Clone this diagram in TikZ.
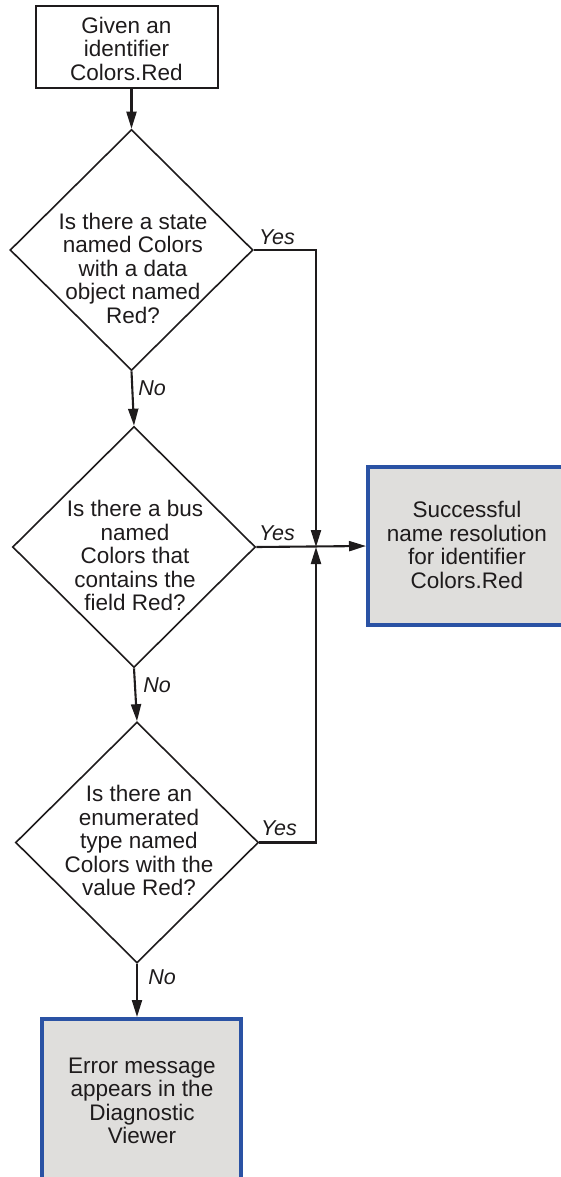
\documentclass[tikz,border=0pt]{standalone}
\usepackage{fontspec}
\setmainfont{Liberation Sans}
\usetikzlibrary{shapes.geometric,arrows.meta}
\definecolor{ink}{HTML}{1E1B1C}
\definecolor{frameblue}{HTML}{2A52A4}
\definecolor{boxgray}{HTML}{DFDEDC}
\begin{document}
\begin{tikzpicture}[x=1pt,y=-1pt,
  txt/.style={font=\fontsize{22.5}{23.5}\selectfont, text=ink, align=center, inner sep=0pt},
  startbox/.style={draw=ink, line width=2pt, minimum width=182pt, minimum height=82pt, inner sep=0pt},
  endbox/.style={draw=frameblue, fill=boxgray, line width=4pt, inner sep=0pt},
  decbox/.style={diamond, draw=ink, line width=1.6pt, minimum width=243pt, minimum height=241pt, inner sep=0pt},
  flow/.style={draw=ink, line width=2.1pt},
  arr/.style={-{Triangle[length=17pt,width=10pt]}},
  lab/.style={font=\fontsize{21.5}{22}\selectfont\itshape, text=ink, inner sep=0pt}]
\useasboundingbox (0,0) rectangle (561,1177);
\clip (0,0) rectangle (561,1177);

\node[startbox] (start) at (126.5,47.5) {};
\node[txt] (t0) at (126.5,48.5) {Given an\\identifier\\Colors.Red};

\node[decbox] (d1) at (131.5,250) {};
\node[txt] (t1) at (133,268) {Is there a state\\named Colors\\with a data\\object named\\Red?};

\node[decbox] (d2) at (134,547) {};
\node[txt] (t2) at (135,555.5) {Is there a bus\\named\\Colors that\\contains the\\field Red?};

\node[decbox] (d3) at (137,842.5) {};
\node[txt] (t3) at (139,840.5) {Is there an\\enumerated\\type named\\Colors with the\\value Red?};

\node[endbox, minimum width=197pt, minimum height=158pt] (succ) at (466.5,546) {};
\node[txt] (t4) at (467,545) {Successful\\name resolution\\for identifier\\Colors.Red};

\node[endbox, minimum width=199pt, minimum height=171pt] (err) at (141.5,1104.5) {};
\node[txt] (t5) at (142,1101) {Error message\\appears in the\\Diagnostic\\Viewer};

\coordinate (j) at (316,547);

\draw[flow,arr] (start.south -| d1.north) -- (d1.north);
\draw[flow,arr] (d1.south) -- (d2.north);
\draw[flow,arr] (d2.south) -- (d3.north);
\draw[flow,arr] (d3.south) -- (d3.south |- err.north);
\draw[flow,arr] (d1.east) -| (j);
\draw[flow,arr] (d3.east) -| (j);
\draw[flow,arr] (d2.east) -- (succ.west);

\node[lab] (y1) at (277,237) {Yes};
\node[lab] (y2) at (277,533) {Yes};
\node[lab] (y3) at (279,828) {Yes};
\node[lab] (n1) at (152,388) {No};
\node[lab] (n2) at (157,685) {No};
\node[lab] (n3) at (162,977) {No};
\end{tikzpicture}
\end{document}
